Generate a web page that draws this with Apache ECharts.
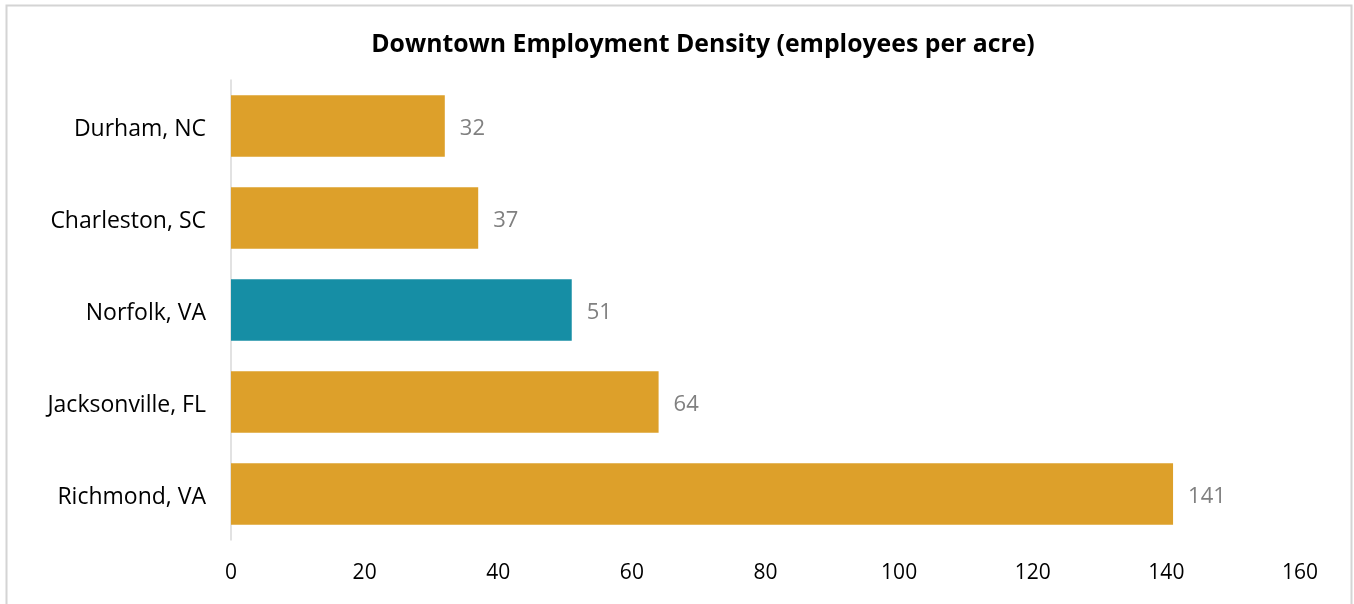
<!DOCTYPE html>
<html>
<head>
<meta charset="utf-8">
<script src="https://cdn.jsdelivr.net/npm/echarts@6/dist/echarts.min.js"></script>
<style>html,body{margin:0;padding:0;background:#fff;}#c{width:1354px;height:604px;}</style>
</head>
<body>
<div id="c"></div>
<script>
const categories = ["Durham, NC", "Charleston, SC", "Norfolk, VA", "Jacksonville, FL", "Richmond, VA"];
const values = [32, 37, 51, 64, 141];
const highlight = "Norfolk, VA";
const xTicks = [0, 20, 40, 60, 80, 100, 120, 140, 160];

const FONT = "Open Sans";
const chart = echarts.init(document.getElementById('c'), null, {renderer: 'canvas'});
chart.setOption({
  animation: false,
  backgroundColor: '#fff',
  title: {
    text: 'Downtown Employment Density (employees per acre)',
    left: 698, top: 27, textAlign: 'center',
    textStyle: {fontFamily: FONT, fontWeight: 'bold', fontSize: 24.8, color: '#000'}
  },
  graphic: [{
    type: 'rect', shape: {x: 6.5, y: 5.5, width: 1345, height: 620},
    style: {fill: 'none', stroke: '#d4d4d4', lineWidth: 2}, silent: true
  }],
  grid: {left: 231, right: 54, top: 80, bottom: 64, containLabel: false},
  xAxis: {
    type: 'value', min: xTicks[0], max: xTicks[xTicks.length - 1], interval: 20,
    axisLine: {show: false}, axisTick: {show: false}, splitLine: {show: false},
    axisLabel: {margin: 23, fontFamily: FONT, fontSize: 21, color: '#000'}
  },
  yAxis: {
    type: 'category', data: categories, inverse: true,
    axisLine: {show: true, lineStyle: {color: '#d9d9d9', width: 1.5}},
    axisTick: {show: false},
    axisLabel: {
      margin: 25, formatter: '{a|{value}}',
      rich: {a: {padding: [6, 0, 0, 0], fontFamily: FONT, fontSize: 23, color: '#000'}}
    }
  },
  series: [{
    type: 'bar', barCategoryGap: '33%',
    data: values.map((v, i) => ({
      value: v,
      itemStyle: {color: categories[i] === highlight ? '#168EA5' : '#DDA02A'}
    })),
    label: {show: true, position: 'right', distance: 15, offset: [0, 3], fontFamily: FONT, fontSize: 22, color: '#808080'}
  }]
});
</script>
</body>
</html>
